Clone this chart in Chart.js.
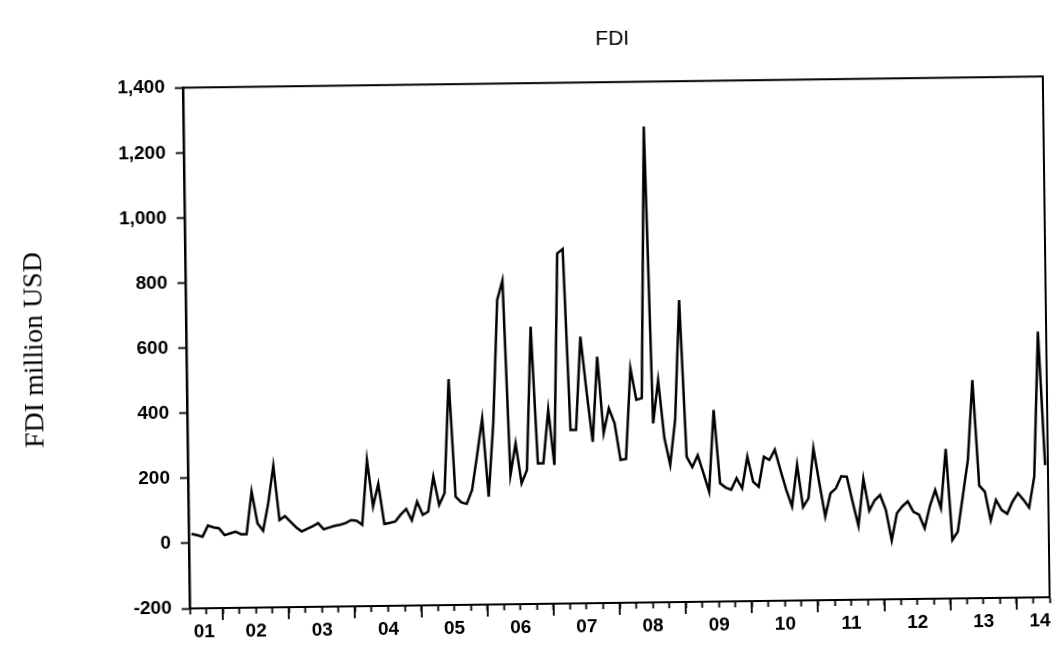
<!DOCTYPE html>
<html>
<head>
<meta charset="utf-8">
<title>FDI</title>
<script src="https://cdn.jsdelivr.net/npm/chart.js@4.4.1/dist/chart.umd.min.js"></script>
<style>
  html, body { margin: 0; padding: 0; background: #fff; }
  #wrap { width: 1058px; height: 648px; overflow: hidden; }
  /* the printed graph sits slightly tilted on the page */
  #fdiChart { display: block; transform: rotate(-0.75deg); transform-origin: 50% 50%; }
</style>
</head>
<body>
<div id="wrap"><canvas id="fdiChart" width="1058" height="648"></canvas></div>
<script>
// monthly FDI inflows, million USD, 2001M07 - 2014M06
const firstYear = 2001;
const firstMonth = 7;

const fdiValues = [
  // 2001 (Jul-Dec)
  29, 25, 20, 54, 48, 45,
  // 2002
  24, 29, 34, 26, 26, 157, 59, 36, 120, 235, 68, 80,
  // 2003
  62, 45, 32, 40, 48, 57, 38, 43, 48, 51, 56, 65,
  // 2004
  63, 50, 249, 106, 175, 52, 55, 59, 80, 97, 62, 119,
  // 2005
  78, 88, 195, 108, 144, 494, 133, 115, 110, 153, 260, 372,
  // 2006
  131, 357, 735, 795, 197, 294, 171, 212, 652, 232, 232, 396,
  // 2007
  226, 876, 889, 333, 333, 619, 450, 296, 557, 322, 398, 352,
  // 2008
  239, 242, 520, 423, 428, 1262, 350, 483, 305, 222, 360, 728,
  // 2009
  246, 214, 250, 195, 138, 389, 163, 150, 143, 178, 147, 244,
  // 2010
  167, 151, 243, 233, 264, 200, 140, 89, 217, 87, 114, 267,
  // 2011
  160, 57, 128, 143, 180, 178, 100, 27, 171, 73, 105, 121,
  // 2012
  75, -19, 64, 85, 100, 68, 59, 17, 85, 134, 78, 260,
  // 2013
  -20, 5, 115, 225, 470, 146, 127, 38, 101, 70, 58, 95,
  // 2014 (Jan-Jun)
  121, 100, 76, 171, 616, 206
];

const yearLabels = ['01', '02', '03', '04', '05', '06', '07', '08', '09', '10', '11', '12', '13', '14'];
const yTickValues = [-200, 0, 200, 400, 600, 800, 1000, 1200, 1400];

// x runs over observation index; boundaries between months sit on the half steps
const lastIdx = fdiValues.length - 1;
const xMin = -0.5, xMax = lastIdx + 0.5;
const monthIndex = (year, month) => (year - firstYear) * 12 + (month - firstMonth);

// quarter ticks and the longer year ticks
const quarterTicks = [];
for (let v = xMin; v <= xMax + 1e-9; v += 3) quarterTicks.push(v);
const yearStarts = [];
for (let y = firstYear + 1; y <= firstYear + yearLabels.length - 1; y++) yearStarts.push(monthIndex(y, 1) - 0.5);

// year labels centred on mid-year, pulled inside at both ends
const labelAt = new Map();
const labelOnly = new Set();
yearLabels.forEach((txt, k) => {
  let pos = monthIndex(firstYear + k, 7) - 0.5;
  pos = Math.min(Math.max(pos, xMin + 2.6), xMax - 1.8);
  labelAt.set(pos, txt);
  if (!quarterTicks.includes(pos)) labelOnly.add(pos);
});
const xTicks = [...new Set([...quarterTicks, ...labelAt.keys()])].sort((a, b) => a - b);

const frameAndYearTicks = {
  id: 'frameAndYearTicks',
  afterDraw(chart) {
    const { ctx, chartArea: a } = chart;
    const x = chart.scales.x;
    ctx.save();
    ctx.strokeStyle = '#000';
    ctx.lineWidth = 2;
    ctx.strokeRect(a.left, a.top, a.right - a.left, a.bottom - a.top);
    ctx.lineWidth = 1.8;
    ctx.beginPath();
    yearStarts.forEach(v => {
      const px = Math.round(x.getPixelForValue(v));
      ctx.moveTo(px, a.bottom);
      ctx.lineTo(px, a.bottom + 12);
    });
    ctx.stroke();
    ctx.restore();
  }
};

const tickFont = { family: 'Liberation Sans', size: 19, weight: 'bold' };

new Chart(document.getElementById('fdiChart'), {
  type: 'line',
  data: {
    datasets: [{
      label: 'FDI',
      data: fdiValues.map((v, i) => ({ x: i, y: v })),
      borderColor: '#000',
      borderWidth: 2.5,
      pointRadius: 0,
      tension: 0,
      fill: false
    }]
  },
  options: {
    responsive: false,
    animation: false,
    events: [],
    layout: { padding: { left: 0, right: 12, top: 0, bottom: 0 } },
    plugins: {
      legend: { display: false },
      tooltip: { enabled: false },
      title: {
        display: true,
        text: 'FDI',
        fullSize: false,
        color: '#000',
        font: { family: 'Liberation Sans', size: 21, weight: 'normal' },
        padding: { top: 28, bottom: 30 }
      }
    },
    scales: {
      x: {
        type: 'linear',
        min: xMin,
        max: xMax,
        afterBuildTicks: s => { s.ticks = xTicks.map(v => ({ value: v })); },
        afterFit: s => { s.height = 44; },
        ticks: {
          autoSkip: false,
          maxRotation: 0,
          padding: 6,
          color: '#000',
          font: tickFont,
          callback: v => labelAt.get(v) ?? ''
        },
        grid: {
          drawOnChartArea: false,
          tickLength: 6,
          tickWidth: 1.8,
          tickColor: c => (c.tick && labelOnly.has(c.tick.value)) ? 'rgba(0,0,0,0)' : '#000'
        },
        border: { color: '#000', width: 2 }
      },
      y: {
        min: -200,
        max: 1400,
        afterBuildTicks: s => { s.ticks = yTickValues.map(v => ({ value: v })); },
        afterFit: s => { s.width = 186; },
        ticks: {
          padding: 10,
          color: '#000',
          font: tickFont,
          callback: v => v.toLocaleString('en-US')
        },
        grid: { drawOnChartArea: false, tickLength: 8, tickWidth: 1.8, tickColor: '#000' },
        border: { color: '#000', width: 2.5 },
        title: {
          display: true,
          text: 'FDI million USD',
          color: '#000',
          font: { family: 'Liberation Serif', size: 28 },
          padding: { top: 18, bottom: 0 }
        }
      }
    }
  },
  plugins: [frameAndYearTicks]
});
</script>
</body>
</html>
